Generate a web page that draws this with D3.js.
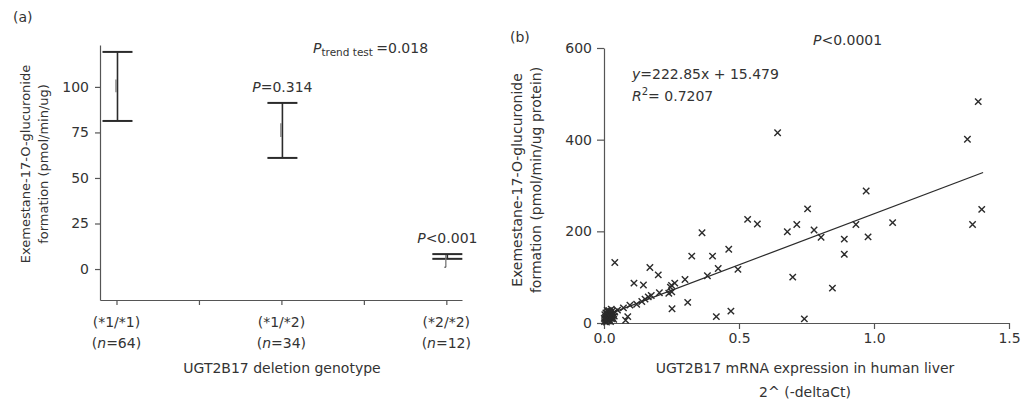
<!DOCTYPE html>
<html>
<head>
<meta charset="utf-8">
<script src="https://cdn.jsdelivr.net/npm/d3@7"></script>
<style>
  body { margin: 0; background: #fff; }
  svg { font-family: "DejaVu Sans", sans-serif; }
  .axis path, .axis line { stroke: #555; stroke-width: 1.2; }
  .axis text { font-size: 14px; fill: #333; font-family: "DejaVu Sans", sans-serif; }
</style>
</head>
<body>
<svg id="chart" width="1030" height="405"></svg>
<script>
// panel (a) - genotype vs glucuronide formation
const genotypes = ["(*1/*1)", "(*1/*2)", "(*2/*2)"];
const groupN = [64, 34, 12];
const ciHigh = [119.2, 91.2, 8.2];
const ciLow = [81.3, 61.0, 5.6];
const innerHigh = [104, 80, 7.7];
const innerLow = [97, 72.5, 1.0];
const pLabels = [null, "=0.314", "<0.001"];
const yTicksA = [0, 25, 50, 75, 100];

// panel (b) - mRNA expression vs formation
const expr = [0.643, 1.386, 1.346, 0.971, 1.399, 0.754, 0.532, 0.568, 0.679, 0.714, 0.778, 0.804,
  0.933, 0.978, 1.069, 1.365, 0.890, 0.890, 0.699, 0.846, 0.742,
  0.363, 0.325, 0.402, 0.462, 0.423, 0.496, 0.383, 0.300, 0.262, 0.250, 0.246, 0.251, 0.240, 0.205,
  0.170, 0.201, 0.111, 0.146, 0.040, 0.310, 0.252, 0.416, 0.470,
  0.164, 0.152, 0.140, 0.121, 0.096, 0.072, 0.050, 0.088, 0.080, 0.175,
  0.002, 0.004, 0.005, 0.006, 0.008, 0.009, 0.010, 0.011, 0.012, 0.013, 0.014, 0.015, 0.016, 0.017,
  0.018, 0.019, 0.020, 0.021, 0.022, 0.023, 0.024, 0.025, 0.026, 0.028, 0.029, 0.030, 0.032, 0.034,
  0.036, 0.038, 0.003, 0.007, 0.001, 0.012, 0.027, 0.040];
const formation = [415, 483, 401, 288, 248, 249, 226, 216, 199, 215, 203, 187,
  215, 188, 219, 215, 183, 150, 100, 76, 9,
  197, 146, 146, 161, 119, 117, 103, 95, 87, 82, 78, 68, 65, 66,
  121, 105, 87, 83, 132, 45, 31, 14, 26,
  57, 52, 47, 41, 39, 33, 28, 14, 6, 60,
  3, 8, 12, 5, 15, 2, 10, 20, 6, 14, 24, 9, 4, 18,
  12, 27, 7, 16, 22, 11, 3, 19, 14, 9, 25, 17, 12, 21,
  8, 15, 18, 22, 10, 28, 30, 24];
const slope = 222.85, intercept = 15.479;
const fitRange = [0, 1.404];

const svg = d3.select("#chart");
const ink = "#2b2b2b";

// ---------- panel (a) ----------
const xA = d3.scaleLinear().domain([0.9, 3.095]).range([100, 462]);
const yA = d3.scaleLinear().domain([-17, 123]).range([300, 45]);

svg.append("g").attr("class", "axis")
  .attr("transform", "translate(100,0)")
  .call(d3.axisLeft(yA).tickValues(yTicksA).tickSize(5).tickPadding(6).tickSizeOuter(0));

const xAxisA = svg.append("g").attr("class", "axis")
  .attr("transform", "translate(0,300)")
  .call(d3.axisBottom(xA).tickValues([1, 1.5, 2, 2.5, 3]).tickSize(5).tickSizeOuter(0).tickFormat(""));

genotypes.forEach((g, i) => {
  const cx = xA(i + 1);
  svg.append("text").attr("x", cx).attr("y", 327).attr("text-anchor", "middle")
    .attr("font-size", 14).attr("fill", "#333").text(g);
  const t = svg.append("text").attr("x", cx).attr("y", 348).attr("text-anchor", "middle")
    .attr("font-size", 14).attr("fill", "#333");
  t.append("tspan").text("(");
  t.append("tspan").attr("font-style", "italic").text("n");
  t.append("tspan").text("=" + groupN[i] + ")");
});

svg.append("text").attr("x", 282).attr("y", 373).attr("text-anchor", "middle")
  .attr("font-size", 14).attr("fill", "#333").text("UGT2B17 deletion genotype");

const yLabA = svg.append("text").attr("transform", "translate(30,164) rotate(-90)")
  .attr("text-anchor", "middle").attr("font-size", 13).attr("fill", "#333");
yLabA.append("tspan").attr("x", 0).attr("dy", 0).text("Exemestane-17-O-glucuronide");
yLabA.append("tspan").attr("x", 0).attr("dy", 18).text("formation (pmol/min/ug)");

// error bars
const bars = svg.append("g").attr("stroke", ink);
genotypes.forEach((g, i) => {
  const cx = xA(i + 1) + 1;
  bars.append("line").attr("x1", cx).attr("x2", cx)
    .attr("y1", yA(ciHigh[i])).attr("y2", yA(ciLow[i])).attr("stroke-width", 1.6);
  [ciHigh[i], ciLow[i]].forEach(v => {
    bars.append("line").attr("x1", cx - 15).attr("x2", cx + 15)
      .attr("y1", yA(v)).attr("y2", yA(v)).attr("stroke-width", 2);
  });
  // small inner interval marker
  bars.append("line").attr("x1", cx - 1.5).attr("x2", cx - 1.5)
    .attr("y1", yA(innerHigh[i])).attr("y2", yA(innerLow[i]))
    .attr("stroke", "#777").attr("stroke-width", 1.3);
  if (i === 2) {
    bars.append("line").attr("x1", cx - 3).attr("x2", cx - 1.5)
      .attr("y1", yA(innerLow[i])).attr("y2", yA(innerLow[i])).attr("stroke-width", 1);
  }
  if (pLabels[i]) {
    const pt = svg.append("text").attr("x", cx).attr("y", yA(ciHigh[i]) - 11)
      .attr("text-anchor", "middle").attr("font-size", 14).attr("fill", "#333");
    pt.append("tspan").attr("font-style", "italic").text("P");
    pt.append("tspan").text(pLabels[i]);
  }
});

const trend = svg.append("text").attr("x", 313).attr("y", 53).attr("font-size", 14).attr("fill", "#333");
trend.append("tspan").attr("font-style", "italic").text("P");
trend.append("tspan").attr("font-size", 10.5).attr("dy", 3).text("trend test ");
trend.append("tspan").attr("dy", -3).text("=0.018");

svg.append("text").attr("x", 13).attr("y", 22).attr("font-size", 14).attr("fill", "#333").text("(a)");

// ---------- panel (b) ----------
const xB = d3.scaleLinear().domain([0, 1.5]).range([604, 1009]);
const yB = d3.scaleLinear().domain([0, 600]).range([323, 48]);

svg.append("g").attr("class", "axis")
  .attr("transform", "translate(604,0)")
  .call(d3.axisLeft(yB).tickValues([0, 200, 400, 600]).tickSize(7).tickPadding(5).tickSizeOuter(0));

svg.append("g").attr("class", "axis")
  .attr("transform", "translate(0,323)")
  .call(d3.axisBottom(xB).tickValues([0, 0.5, 1, 1.5]).tickFormat(d3.format(".1f"))
    .tickSize(6).tickPadding(4).tickSizeOuter(0));

svg.append("line")
  .attr("x1", xB(fitRange[0])).attr("y1", yB(slope * fitRange[0] + intercept))
  .attr("x2", xB(fitRange[1])).attr("y2", yB(slope * fitRange[1] + intercept))
  .attr("stroke", ink).attr("stroke-width", 1.3);

const pts = expr.map((x, i) => ({ x: x, y: formation[i] }));
const s = 3.2;
svg.append("g").selectAll("path").data(pts).join("path")
  .attr("d", d => {
    const px = xB(d.x), py = yB(d.y);
    return `M${px - s},${py - s}L${px + s},${py + s}M${px - s},${py + s}L${px + s},${py - s}`;
  })
  .attr("stroke", ink).attr("stroke-width", 1.4).attr("fill", "none");

svg.append("text").attr("x", 510).attr("y", 42).attr("font-size", 14).attr("fill", "#333").text("(b)");

const pB = svg.append("text").attr("x", 813).attr("y", 45).attr("font-size", 14).attr("fill", "#333");
pB.append("tspan").attr("font-style", "italic").text("P");
pB.append("tspan").text("<0.0001");

const eq = svg.append("text").attr("x", 632).attr("y", 79).attr("font-size", 14).attr("fill", "#333");
eq.append("tspan").attr("font-style", "italic").text("y");
eq.append("tspan").text("=222.85x + 15.479");

const r2 = svg.append("text").attr("x", 632).attr("y", 101).attr("font-size", 14).attr("fill", "#333");
r2.append("tspan").attr("font-style", "italic").text("R");
r2.append("tspan").attr("font-size", 10).attr("dy", -6).text("2");
r2.append("tspan").attr("dy", 6).text("= 0.7207");

svg.append("text").attr("x", 805).attr("y", 373).attr("text-anchor", "middle")
  .attr("font-size", 14).attr("fill", "#333").text("UGT2B17 mRNA expression in human liver");
svg.append("text").attr("x", 805).attr("y", 397).attr("text-anchor", "middle")
  .attr("font-size", 14).attr("fill", "#333").text("2^ (-deltaCt)");

const yLabB = svg.append("text").attr("transform", "translate(522,180) rotate(-90)")
  .attr("text-anchor", "middle").attr("font-size", 14).attr("fill", "#333");
yLabB.append("tspan").attr("x", 0).attr("dy", 0).text("Exemestane-17-O-glucuronide");
yLabB.append("tspan").attr("x", 0).attr("dy", 19).text("formation (pmol/min/ug protein)");
</script>
</body>
</html>
